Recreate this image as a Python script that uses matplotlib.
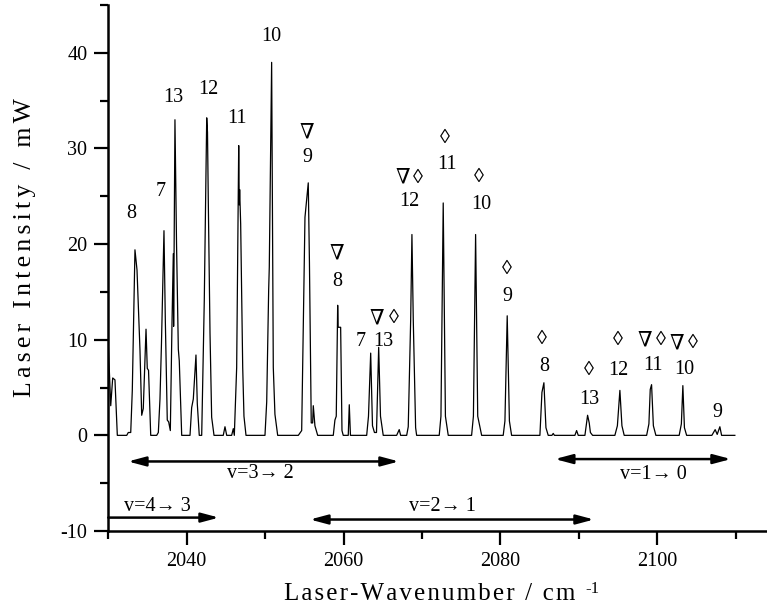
import matplotlib
matplotlib.use("Agg")
import matplotlib.pyplot as plt

plt.rcParams["font.family"] = ["Liberation Serif", "DejaVu Serif"]
plt.rcParams["axes.unicode_minus"] = False

# laser output trace (vertices of the recorded polyline)
wavenumber = [
    2030.00, 2030.31, 2030.56, 2030.85, 2031.15, 2032.35, 2032.55, 2032.86,
    2033.06, 2033.40, 2033.66, 2034.04, 2034.26, 2034.46, 2034.81, 2034.97,
    2035.13, 2035.41, 2036.17, 2036.38, 2036.59, 2036.78, 2037.10, 2037.27,
    2037.52, 2037.70, 2037.91, 2038.12, 2038.29, 2038.33, 2038.50, 2038.70,
    2038.93, 2039.05, 2039.36, 2040.42, 2040.63, 2040.84, 2041.18, 2041.35,
    2041.60, 2041.91, 2042.24, 2042.55, 2042.65, 2042.75, 2042.97, 2043.18,
    2043.48, 2044.66, 2044.88, 2045.10, 2045.73, 2045.94, 2046.07, 2046.37,
    2046.63, 2046.70, 2046.75, 2046.88, 2047.14, 2047.30, 2047.56, 2049.98,
    2050.20, 2050.45, 2050.53, 2050.83, 2051.04, 2051.25, 2051.60, 2054.23,
    2054.66, 2055.08, 2055.50, 2055.65, 2055.88, 2056.06, 2056.14, 2056.35,
    2056.70, 2058.69, 2058.90, 2059.07, 2059.15, 2059.25, 2059.31, 2059.63,
    2059.80, 2059.96, 2060.60, 2060.73, 2060.88, 2062.95, 2063.18, 2063.46,
    2063.69, 2063.94, 2064.20, 2064.48, 2064.71, 2065.06, 2066.77, 2067.10,
    2067.28, 2068.05, 2068.25, 2068.56, 2068.72, 2068.89, 2069.19, 2069.32,
    2072.20, 2072.42, 2072.71, 2072.99, 2073.35, 2076.33, 2076.56, 2076.84,
    2077.11, 2077.61, 2080.36, 2080.58, 2080.87, 2081.15, 2081.43, 2085.04,
    2085.30, 2085.55, 2085.81, 2086.10, 2086.57, 2086.74, 2086.89, 2089.50,
    2089.72, 2089.93, 2090.78, 2091.12, 2091.33, 2091.48, 2091.76, 2094.60,
    2094.92, 2095.24, 2095.50, 2095.79, 2098.65, 2098.94, 2099.11, 2099.28,
    2099.51, 2099.83, 2102.80, 2103.08, 2103.27, 2103.47, 2103.75, 2106.97,
    2107.39, 2107.65, 2107.99, 2108.21, 2109.90,
]
intensity = [
    9.5, 3.1, 6.0, 5.8, 0.0, 0.0, 0.3, 0.3,
    4.7, 19.4, 17.3, 8.9, 2.1, 2.8, 11.1, 7.0,
    6.8, 0.0, 0.0, 0.3, 3.8, 9.6, 21.4, 12.1,
    1.6, 1.4, 0.5, 11.6, 19.0, 11.4, 33.0, 20.1,
    9.0, 7.8, 0.0, 0.0, 2.9, 3.8, 8.4, 3.3,
    0.0, 0.0, 14.1, 33.2, 31.7, 24.6, 10.7, 1.9,
    0.0, 0.0, 0.9, 0.0, 0.0, 0.7, 0.0, 7.1,
    30.3, 24.1, 25.7, 22.1, 7.1, 2.0, 0.0, 0.0,
    3.5, 15.2, 17.6, 39.0, 7.1, 2.2, 0.0, 0.0,
    0.5, 22.8, 26.4, 18.1, 1.3, 1.3, 3.1, 1.0,
    0.0, 0.0, 1.6, 2.0, 7.5, 13.6, 11.3, 11.3,
    0.5, 0.0, 0.0, 3.2, 0.0, 0.0, 2.0, 8.6,
    1.0, 0.3, 0.3, 9.2, 2.0, 0.0, 0.0, 0.6,
    0.0, 0.0, 0.9, 12.1, 21.0, 12.1, 0.8, 0.0,
    0.0, 2.0, 24.3, 2.0, 0.0, 0.0, 2.0, 21.0,
    2.0, 0.0, 0.0, 1.5, 12.5, 1.5, 0.0, 0.0,
    4.5, 5.5, 0.8, 0.0, 0.0, 0.2, 0.0, 0.0,
    0.5, 0.0, 0.0, 2.1, 1.3, 0.3, 0.0, 0.0,
    1.0, 4.7, 1.0, 0.0, 0.0, 1.2, 4.8, 5.3,
    1.0, 0.0, 0.0, 1.2, 5.2, 0.8, 0.0, 0.0,
    0.6, 0.1, 0.9, 0.0, 0.0,
]

# rotational line labels: (x, y, text)
line_labels = [
    (2032.98, 23.2, "8"), (2036.68, 25.5, "7"), (2038.29, 35.3, "13"),
    (2042.75, 36.2, "12"), (2046.45, 33.1, "11"), (2050.83, 41.7, "10"),
    (2055.37, 29.1, "9"), (2059.25, 16.1, "8"), (2062.18, 9.8, "7"),
    (2065.06, 9.8, "13"), (2068.38, 24.5, "12"), (2073.15, 28.3, "11"),
    (2077.52, 24.1, "10"), (2080.87, 14.5, "9"), (2085.55, 7.2, "8"),
    (2091.29, 3.8, "13"), (2095.03, 6.8, "12"), (2099.41, 7.3, "11"),
    (2103.40, 6.9, "10"), (2107.65, 2.4, "9"),
]
# isotope markers above the lines
nabla_marks = [
    (2055.30, 31.6), (2059.20, 19.0), (2064.30, 12.2), (2067.54, 26.9),
    (2098.43, 9.9), (2102.55, 9.6),
]
diamond_marks = [
    (2066.43, 12.2), (2069.53, 26.9), (2072.89, 31.0), (2077.23, 27.0),
    (2080.80, 17.3), (2085.34, 10.0), (2091.29, 6.8), (2095.03, 9.9),
    (2100.43, 9.9), (2104.51, 9.6),
]

# vibrational bands: (start, end, y, both heads, label, label x, label y)
bands = [
    (2032.51, 2067.06, -2.73, True, "v=3\u2192 2", 2049.34, -3.98),
    (2086.95, 2109.40, -2.48, True, "v=1\u2192 0", 2099.45, -4.09),
    (2055.72, 2091.93, -8.80, True, "v=2\u2192 1", 2072.67, -7.44),
    (2030.00, 2044.11, -8.60, False, "v=4\u2192 3", 2036.30, -7.44),
]


def spaced(s, gap):
    return gap.join(s)


fig = plt.figure(figsize=(7.67, 6.15), dpi=100)
ax = fig.add_axes([0.1412, 0.1366, 1 - 0.1412, 0.9919 - 0.1366])

ax.plot(wavenumber, intensity, color="black", lw=0.9)

for x, y, s in line_labels:
    ax.text(x, y, s, ha="center", va="center", fontsize=14.5)
for x, y in nabla_marks:
    ax.text(x, y, "\u2207", ha="center", va="center", fontsize=15)
for x, y in diamond_marks:
    ax.text(x, y, "\u25ca", ha="center", va="center", fontsize=14.5)

for x0, x1, y, both, s, tx, ty in bands:
    style = "<|-|>" if both else "-|>"
    ax.annotate("", xy=(x1, y), xytext=(x0, y),
                arrowprops=dict(arrowstyle=style + ",head_length=0.75,head_width=0.2",
                                lw=1.8, color="black", shrinkA=0, shrinkB=0,
                                mutation_scale=14))
    ax.text(tx, ty, s, ha="center", va="center", fontsize=14.5)

ax.set_xlim(2030, 2114)
ax.set_ylim(-10, 45)
ax.set_xticks([2040, 2060, 2080, 2100])
ax.set_xticks([2030, 2050, 2070, 2090, 2110], minor=True)
ax.set_yticks([-10, 0, 10, 20, 30, 40])
ax.set_yticks([-5, 5, 15, 25, 35, 45], minor=True)
ax.spines["top"].set_visible(False)
ax.spines["right"].set_visible(False)
for side in ("left", "bottom"):
    ax.spines[side].set_linewidth(1.8)
ax.tick_params(which="major", direction="out", length=10, width=1.6,
               labelsize=14.5)
ax.tick_params(which="minor", direction="out", length=5.5, width=1.6)
ax.tick_params(axis="x", pad=5)
ax.tick_params(axis="y", pad=5)

fig.text(0.5606, 0.025, spaced("Laser-Wavenumber / cm", "\u200a"),
         ha="center", va="baseline", fontsize=18)
fig.text(0.772, 0.043, "-1", ha="center", va="center", fontsize=12)
fig.text(0.033, 0.5976, spaced("Laser Intensity / mW", "\u2006"),
         ha="center", va="center", rotation=90, fontsize=18.5)

fig.savefig("out.png", dpi=100)
